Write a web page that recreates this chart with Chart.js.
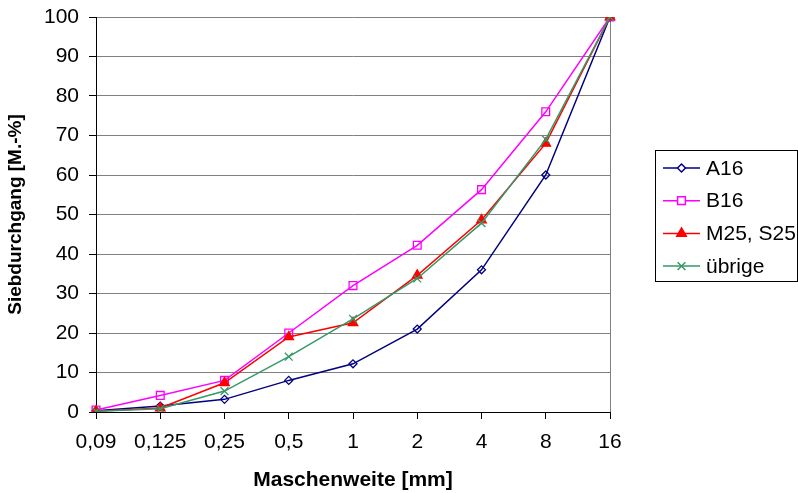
<!DOCTYPE html>
<html>
<head>
<meta charset="utf-8">
<script src="https://cdn.jsdelivr.net/npm/chart.js@4/dist/chart.umd.min.js"></script>
<style>
  html, body { margin: 0; padding: 0; background: #fff; }
  #wrap { width: 798px; height: 493px; }
</style>
</head>
<body>
<div id="wrap"><canvas id="siebChart" width="798" height="493"></canvas></div>
<script>
// Sieblinien - Siebdurchgang je Maschenweite
const categories = ['0,09', '0,125', '0,25', '0,5', '1', '2', '4', '8', '16'];
const a16    = [0.3, 1.5, 3.2, 8.0, 12.2, 21.0, 36.0, 60.0, 100];
const b16    = [0.5, 4.2, 8.0, 20.0, 32.0, 42.2, 56.3, 76.0, 100];
const m25s25 = [0.2, 1.0, 7.4, 19.0, 22.6, 34.6, 48.6, 68.0, 100];
const uebrige = [0.2, 0.8, 5.3, 14.0, 23.6, 33.8, 47.8, 69.0, 100];
const yTicks = [0, 10, 20, 30, 40, 50, 60, 70, 80, 90, 100];

const FONT = "'Liberation Sans', Arial, sans-serif";

const series = [
  { label: 'A16', data: a16, color: '#000080', style: 'rectRot', radius: 4, fill: false },
  { label: 'B16', data: b16, color: '#FF00FF', style: 'rect', radius: 5.5, fill: false },
  { label: 'M25, S25', data: m25s25, color: '#FF0000', style: 'triangle', radius: 5.5, fill: true },
  { label: 'übrige', data: uebrige, color: '#339966', style: 'crossRot', radius: 5.5, fill: false }
];

// right border of the plot area (gray) + boxed legend with line+marker icons
const frameAndLegend = {
  id: 'frameAndLegend',
  beforeDatasetsDraw(chart) {
    const { ctx, chartArea } = chart;
    ctx.save();
    ctx.strokeStyle = '#808080';
    ctx.lineWidth = 1;
    ctx.beginPath();
    ctx.moveTo(chartArea.right + 0.5, chartArea.top);
    ctx.lineTo(chartArea.right + 0.5, chartArea.bottom);
    ctx.stroke();
    ctx.restore();
  },
  afterDraw(chart) {
    const { ctx } = chart;
    const boxLeft = 655.5, boxRight = 797.5, boxTop = 150.5, boxBottom = 281.5;
    const rowH = 32.7;
    ctx.save();
    ctx.strokeStyle = '#000';
    ctx.lineWidth = 1;
    ctx.strokeRect(boxLeft, boxTop, boxRight - boxLeft, boxBottom - boxTop);
    ctx.font = '21px ' + FONT;
    ctx.textBaseline = 'middle';
    series.forEach((s, i) => {
      const y = 168 + i * rowH;
      ctx.strokeStyle = s.color;
      ctx.lineWidth = 1.5;
      ctx.beginPath();
      ctx.moveTo(663, y);
      ctx.lineTo(700, y);
      ctx.stroke();
      ctx.fillStyle = s.fill ? s.color : '#fff';
      Chart.helpers.drawPoint(ctx, {
        pointStyle: s.style, radius: s.radius, borderWidth: 1.3, rotation: 0
      }, 681.5, y);
      ctx.fillStyle = '#000';
      ctx.fillText(s.label, 706, y + 1);
    });
    ctx.restore();
  }
};

const ctx = document.getElementById('siebChart').getContext('2d');
new Chart(ctx, {
  type: 'line',
  data: {
    labels: categories,
    datasets: series.map((s, i) => ({
      label: s.label,
      data: s.data,
      borderColor: s.color,
      backgroundColor: s.fill ? s.color : '#ffffff',
      borderWidth: 1.5,
      pointStyle: s.style,
      pointRadius: s.radius,
      pointBorderWidth: 1.3,
      pointBorderColor: s.color,
      pointBackgroundColor: s.fill ? s.color : 'rgba(255,255,255,0)',
      tension: 0,
      fill: false,
      order: series.length - i
    }))
  },
  options: {
    responsive: false,
    animation: false,
    layout: { padding: { top: 17, right: 188, left: 0, bottom: 0 } },
    plugins: {
      legend: { display: false },
      tooltip: { enabled: false }
    },
    scales: {
      x: {
        offset: false,
        grid: { drawOnChartArea: false, tickColor: '#000', tickLength: 7, drawTicks: true },
        border: { color: '#000', width: 1 },
        ticks: { color: '#000', font: { family: FONT, size: 21 }, padding: 11, maxRotation: 0, autoSkip: false },
        title: { display: true, text: 'Maschenweite [mm]', color: '#000', font: { family: FONT, size: 21, weight: 'bold' }, padding: { top: 8, bottom: 0 } },
        afterFit: scale => { scale.height = 81; scale.paddingLeft = 0; scale.paddingRight = 0; }
      },
      y: {
        min: 0,
        max: 100,
        afterBuildTicks: scale => { scale.ticks = yTicks.map(v => ({ value: v })); },
        grid: { color: '#808080', tickColor: '#000', tickLength: 7 },
        border: { color: '#000', width: 1 },
        ticks: { color: '#000', font: { family: FONT, size: 21 }, padding: 10 },
        title: { display: true, text: 'Siebdurchgang [M.-%]', color: '#000', font: { family: FONT, size: 19, weight: 'bold' }, padding: { bottom: 4 } },
        afterFit: scale => { scale.width = 96; scale.paddingTop = 0; scale.paddingBottom = 0; }
      }
    }
  },
  plugins: [frameAndLegend]
});
</script>
</body>
</html>
